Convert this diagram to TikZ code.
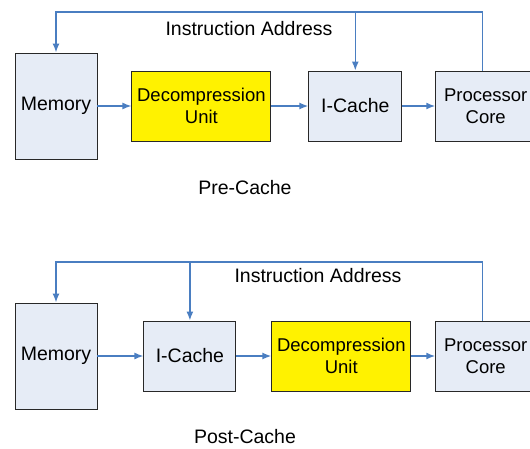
\documentclass[tikz,border=0pt]{standalone}
\usepackage{fontspec}
\setmainfont{Liberation Sans}
\usetikzlibrary{positioning, arrows.meta}
\definecolor{boxfill}{RGB}{230,236,246}
\definecolor{linkblue}{RGB}{74,126,193}
\definecolor{edgegray}{RGB}{40,40,40}

\begin{document}
\begin{tikzpicture}[x=1pt, y=-1pt,
  blk/.style={rectangle, draw=edgegray, fill=boxfill, line width=0.9pt, inner sep=0pt,
    minimum height=70pt, align=center, font=\fontsize{19.5}{22}\selectfont},
  hot/.style={blk, fill=yellow},
  twoline/.style={font=\fontsize{18.5}{22}\selectfont},
  link/.style={draw=linkblue, line width=1.5pt, -{Latex[length=9pt,width=7pt]}},
  bus/.style={draw=linkblue, line width=1.5pt},
  lbl/.style={font=\fontsize{19.5}{22}\selectfont}]
\useasboundingbox (0,0) rectangle (530,448);

% pre-cache
\node[blk, minimum width=82pt, minimum height=106pt] (mem1) at (56,106) {Memory};
\node[hot, twoline, minimum width=139pt, right=34pt of mem1] (dec1) {Decompression\\Unit};
\node[blk, minimum width=93pt, right=37pt of dec1] (ic1) {I-Cache};
\node[blk, twoline, minimum width=100pt, right=33pt of ic1] (cpu1) {Processor\\Core};
\coordinate (bus1) at (0,12);
\node[lbl] (addr1) at (249,29) {Instruction Address};
\node[lbl] (name1) at (245,188) {Pre-Cache};
\draw[link] (mem1.east) -- (dec1.west);
\draw[link] (dec1.east) -- (ic1.west);
\draw[link] (ic1.east) -- (cpu1.west);
\draw[link] ([xshift=47pt]cpu1.north west) -- ([xshift=47pt]cpu1.north west |- bus1) -| (mem1.north);
\draw[link] (ic1.north |- bus1) -- (ic1.north);

% post-cache
\node[blk, minimum width=82pt, minimum height=106pt] (mem2) at (56,356) {Memory};
\node[blk, minimum width=92pt, right=46pt of mem2] (ic2) {I-Cache};
\node[hot, twoline, minimum width=139pt, right=35pt of ic2] (dec2) {Decompression\\Unit};
\node[blk, twoline, minimum width=100pt, right=24pt of dec2] (cpu2) {Processor\\Core};
\coordinate (bus2) at (0,262);
\node[lbl] (addr2) at (318,276) {Instruction Address};
\node[lbl] (name2) at (245,437) {Post-Cache};
\draw[link] (mem2.east) -- (ic2.west);
\draw[link] (ic2.east) -- (dec2.west);
\draw[link] (dec2.east) -- (cpu2.west);
\draw[link] ([xshift=47pt]cpu2.north west) -- ([xshift=47pt]cpu2.north west |- bus2) -| (mem2.north);
\draw[link] (ic2.north |- bus2) -- (ic2.north);
\end{tikzpicture}
\end{document}
